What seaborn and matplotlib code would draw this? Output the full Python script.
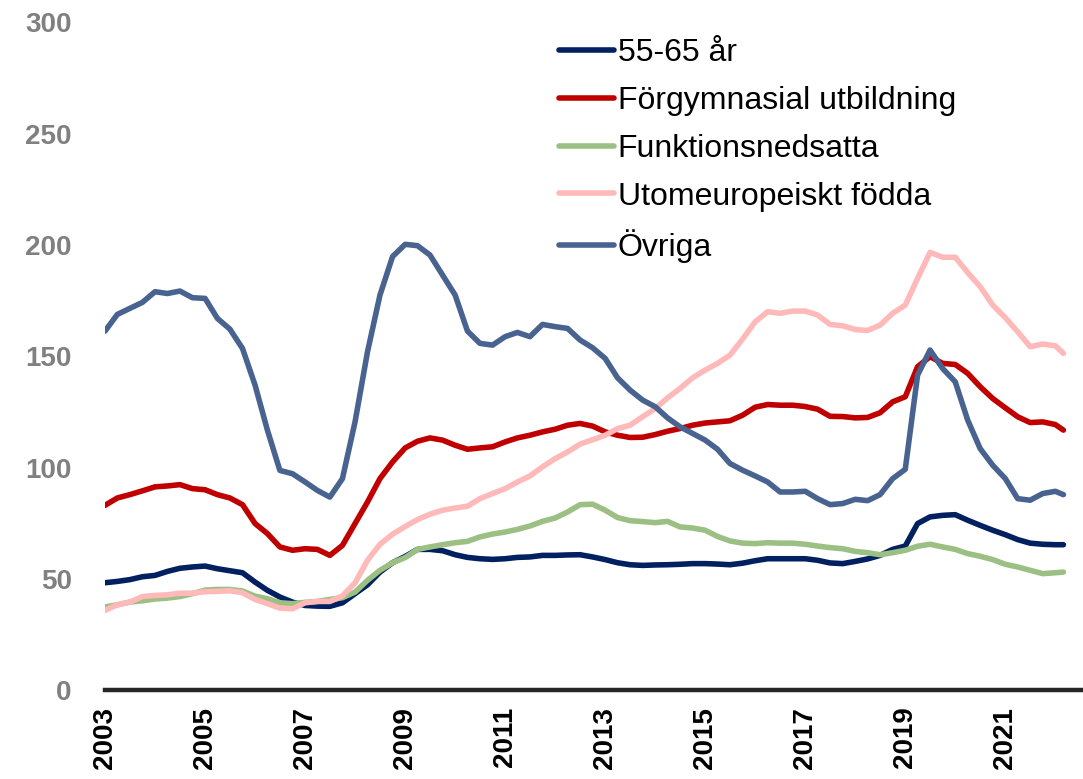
import pandas as pd
import matplotlib.pyplot as plt
import seaborn as sns

# quarterly readings, Jan 2003 .. Jan 2022, plus the last point (Mar 2022)
dates = list(pd.date_range("2003-01-01", "2022-01-01", freq="QS-JAN")) + [pd.Timestamp("2022-03-01")]

aldre_55_65 = [
    48.2, 48.8, 49.6, 50.9, 51.5, 53.3, 54.7, 55.3, 55.7, 54.5,
    53.6, 52.7, 48.5, 44.8, 41.8, 39.5, 38.0, 37.7, 37.6, 39.2,
    43.3, 47.3, 53.0, 57.2, 60.0, 63.2, 63.2, 62.6, 60.8, 59.6,
    59.0, 58.7, 59.0, 59.6, 59.8, 60.5, 60.5, 60.7, 60.8, 59.8,
    58.6, 57.2, 56.3, 56.0, 56.2, 56.3, 56.5, 56.8, 56.8, 56.6,
    56.3, 57.0, 58.1, 59.0, 59.0, 59.0, 59.0, 58.3, 57.1, 56.8,
    57.8, 58.9, 60.5, 63.2, 64.7, 74.8, 77.8, 78.5, 78.8, 76.3,
    74.0, 71.8, 69.8, 67.6, 66.0, 65.5, 65.3, 65.3,
]
forgymnasial = [
    83.0, 86.3, 87.8, 89.5, 91.3, 91.7, 92.3, 90.5, 90.0, 87.8,
    86.3, 83.3, 74.8, 70.3, 64.3, 62.8, 63.5, 63.2, 60.5, 65.0,
    74.8, 84.5, 95.0, 102.5, 108.8, 111.8, 113.3, 112.3, 110.0, 108.2,
    108.8, 109.3, 111.5, 113.3, 114.5, 116.0, 117.2, 119.0, 119.8, 118.6,
    116.0, 114.5, 113.5, 113.6, 114.8, 116.3, 117.5, 119.0, 120.0, 120.5,
    121.0, 123.5, 127.1, 128.3, 128.0, 128.0, 127.4, 126.2, 123.0, 122.9,
    122.3, 122.5, 124.6, 129.5, 131.8, 145.3, 149.8, 146.8, 146.3, 142.3,
    136.3, 131.0, 126.8, 122.8, 120.2, 120.5, 119.3, 116.8,
]
funktionsnedsatta = [
    37.3, 38.3, 39.5, 40.1, 40.9, 41.3, 42.0, 43.3, 44.9, 45.2,
    45.2, 44.5, 42.2, 41.0, 39.2, 38.8, 39.4, 39.8, 40.7, 41.5,
    44.0, 49.3, 53.8, 57.2, 59.5, 63.2, 64.3, 65.3, 66.2, 66.8,
    68.8, 70.1, 71.0, 72.2, 73.7, 75.8, 77.3, 80.0, 83.3, 83.5,
    80.8, 77.5, 76.1, 75.7, 75.2, 75.8, 73.3, 72.8, 71.8, 69.0,
    67.0, 66.0, 65.8, 66.2, 66.0, 66.0, 65.5, 64.7, 64.0, 63.5,
    62.3, 61.7, 60.8, 61.7, 62.8, 64.6, 65.5, 64.3, 63.2, 61.3,
    60.1, 58.6, 56.5, 55.3, 53.8, 52.3, 52.7, 53.0,
]
utomeuropeiskt = [
    35.8, 38.3, 39.5, 42.0, 42.5, 42.8, 43.5, 43.5, 44.2, 44.3,
    44.6, 43.7, 40.7, 38.8, 36.8, 36.5, 39.2, 39.8, 39.8, 42.3,
    48.2, 58.3, 65.5, 70.0, 73.5, 76.6, 79.0, 80.8, 81.8, 82.6,
    86.0, 88.3, 90.5, 93.5, 96.2, 100.3, 104.0, 107.0, 110.5, 112.5,
    114.5, 117.5, 119.0, 122.8, 126.5, 131.3, 135.5, 140.3, 143.8, 146.8,
    150.5, 157.7, 165.5, 170.0, 169.3, 170.3, 170.3, 168.5, 164.3, 163.7,
    162.0, 161.6, 164.0, 169.3, 173.0, 185.0, 196.7, 194.5, 194.5, 187.6,
    181.3, 173.0, 167.3, 161.0, 154.3, 155.5, 154.7, 151.3,
]
ovriga = [
    161.3, 168.8, 171.5, 174.2, 179.0, 178.2, 179.3, 176.3, 176.0, 167.0,
    162.2, 153.5, 137.0, 116.8, 98.7, 97.2, 93.5, 89.7, 86.7, 95.0,
    120.5, 152.0, 177.5, 194.8, 200.3, 199.7, 195.5, 186.5, 177.5, 161.3,
    155.8, 155.0, 158.8, 160.7, 158.8, 164.3, 163.3, 162.5, 157.3, 153.8,
    149.0, 140.3, 134.8, 130.3, 127.3, 122.3, 118.3, 115.3, 112.3, 108.2,
    101.8, 98.8, 96.2, 93.5, 89.0, 89.0, 89.3, 86.0, 83.3, 83.8,
    85.7, 85.1, 87.8, 95.0, 99.2, 141.5, 152.8, 144.5, 138.5, 121.3,
    108.5, 101.0, 95.0, 86.0, 85.3, 88.3, 89.3, 87.8,
]

labels = ["55-65 år", "Förgymnasial utbildning", "Funktionsnedsatta",
          "Utomeuropeiskt födda", "Övriga"]
colors = ["#002060", "#C00000", "#9CC084", "#FFB9B9", "#48638F"]
year_ticks = list(range(2003, 2022, 2))

df = pd.DataFrame({"date": dates, labels[0]: aldre_55_65, labels[1]: forgymnasial,
                   labels[2]: funktionsnedsatta, labels[3]: utomeuropeiskt,
                   labels[4]: ovriga})
long_df = df.melt(id_vars="date", var_name="grupp", value_name="värde")

sns.set_theme(style="white")
plt.rcParams["font.family"] = ["Liberation Sans", "DejaVu Sans"]

fig = plt.figure(figsize=(10.83, 7.79), dpi=100)
ax = fig.add_axes([105 / 1083, 89 / 779, 978 / 1083, 667.5 / 779])

sns.lineplot(data=long_df, x="date", y="värde", hue="grupp", hue_order=labels,
             palette=colors, linewidth=4, ax=ax, legend=False)

ax.set_ylim(0, 300)
ax.set_yticks(range(0, 301, 50))
ax.set_xlim(pd.Timestamp("2003-01-01"), pd.Timestamp("2022-07-22"))
ax.set_xticks([pd.Timestamp(f"{y}-01-01") for y in year_ticks])
ax.set_xticklabels([str(y) for y in year_ticks], rotation=90)
ax.set_xlabel("")
ax.set_ylabel("")

for lbl in ax.get_yticklabels():
    lbl.set_fontweight("bold")
    lbl.set_color("#808080")
    lbl.set_fontsize(20)
for lbl in ax.get_xticklabels():
    lbl.set_fontweight("bold")
    lbl.set_color("black")
    lbl.set_fontsize(20)
ax.tick_params(axis="y", length=0, pad=24)
ax.tick_params(axis="x", length=0, pad=12)

for side in ["left", "right", "top"]:
    ax.spines[side].set_visible(False)
ax.spines["bottom"].set_linewidth(3.2)
ax.spines["bottom"].set_color("#262626")
ax.grid(False)

handles = [plt.Line2D([], [], color=c, linewidth=4, solid_capstyle="round") for c in colors]
fig.legend(handles, labels, loc="upper left", bbox_to_anchor=(559 / 1083, 1 - 38 / 779),
           frameon=False, fontsize=23, handlelength=1.72, handletextpad=0.12,
           labelspacing=0.56, borderpad=0, borderaxespad=0, labelcolor="black")

fig.savefig("out.png", dpi=100)
